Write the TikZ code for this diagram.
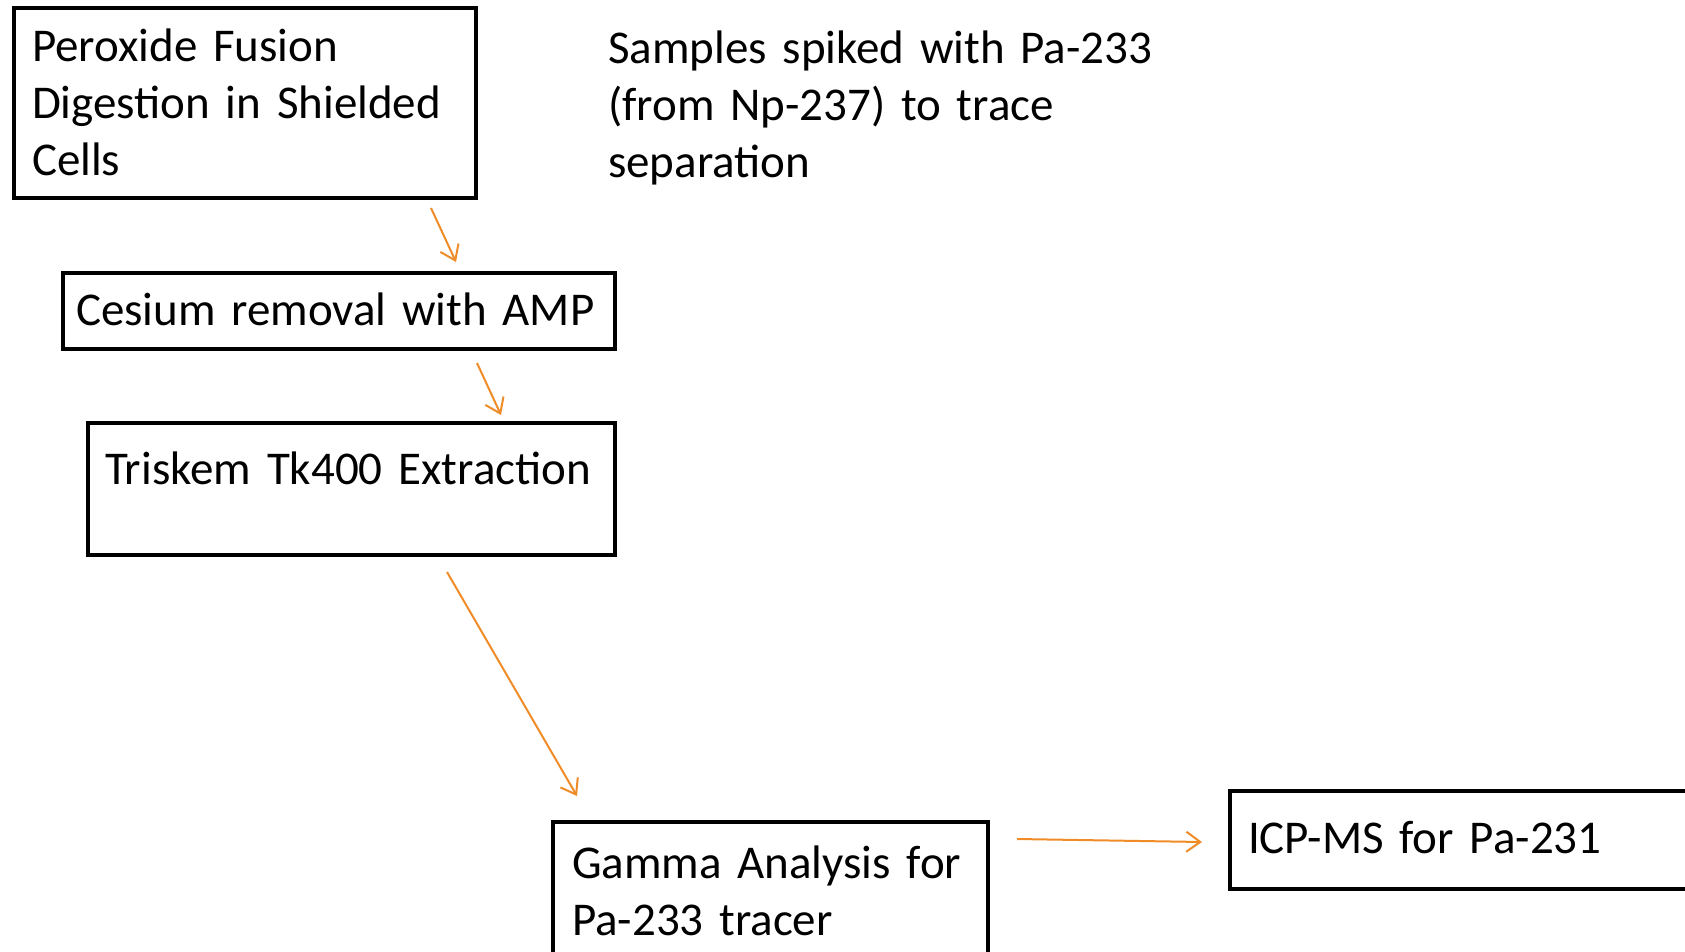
\documentclass[tikz,border=0pt]{standalone}
\usepackage{fontspec}
\setmainfont{Carlito}
\usepackage{xcolor}
\usepackage{tikz}
\usetikzlibrary{arrows.meta, positioning}
\definecolor{flowcolor}{RGB}{240, 140, 40}

\begin{document}
\begin{tikzpicture}[
    x=1pt, y=-1pt,
    stepbox/.style={draw, line width=4pt, anchor=north west, inner xsep=14pt, inner ysep=0pt, align=left, font=\fontsize{47}{57}\selectfont},
    note/.style={anchor=base west, inner sep=0pt, align=left, text width=600pt, font=\fontsize{47}{57}\selectfont},
    flow/.style={-{Straight Barb[length=14pt, width=20pt]}, line width=2pt, flowcolor}
]
    \useasboundingbox (0,0) rectangle (1685,952);
    \clip (0,0) rectangle (1685,952);

    % Boxes
    \node[stepbox, inner xsep=18pt, text width=426pt, text height=54pt, text depth=136pt] (fusion) at (12,6) {Peroxide Fusion\\Digestion in Shielded\\Cells};
    \node[stepbox, inner xsep=13pt, text width=526pt, text height=52pt, text depth=24pt] (cesium) at (61,271) {Cesium removal with AMP};
    \node[stepbox, inner xsep=17pt, text width=493pt, text height=61pt, text depth=71pt] (triskem) at (86,421) {Triskem Tk400 Extraction};
    \node[stepbox, inner xsep=19pt, text width=397pt, text height=56pt, text depth=150pt] (gamma) at (551,820) {Gamma Analysis for\\Pa-233 tracer};
    \node[stepbox, inner xsep=18pt, text width=560pt, text height=62pt, text depth=36pt] (icp) at (1228,789) {ICP-MS for Pa-231};

    % Note
    \node[note] (spike) at (608,64) {Samples spiked with Pa-233\\(from Np-237) to trace\\separation};

    % Arrows
    \draw[flow] ([xshift=-47pt, yshift=-8pt]fusion.south east) -- ([xshift=117pt, yshift=9pt]cesium.north);
    \draw[flow] ([xshift=-140pt, yshift=-12pt]cesium.south east) -- ([xshift=-116pt, yshift=6pt]triskem.north east);
    \draw[flow] ([xshift=95.5pt, yshift=-15pt]triskem.south) -- ([xshift=26pt, yshift=24pt]gamma.north west);
    \draw[flow] ([xshift=27pt, yshift=-19pt]gamma.north east) -- ([xshift=-26pt, yshift=-2pt]icp.west);

\end{tikzpicture}
\end{document}
